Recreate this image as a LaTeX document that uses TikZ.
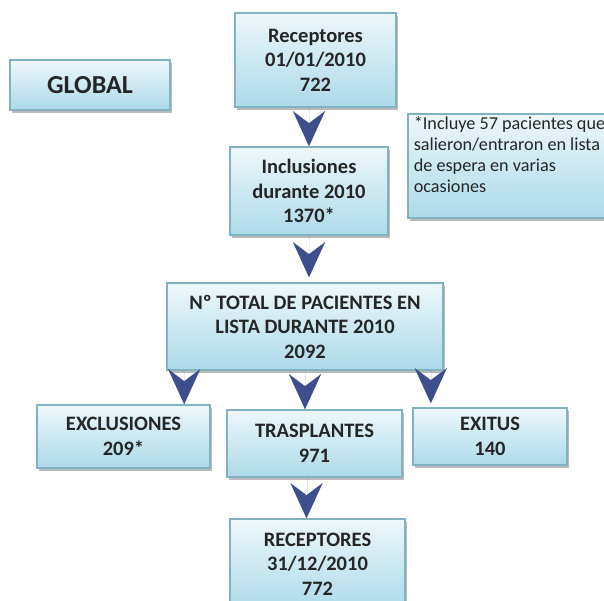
\documentclass[tikz,border=0pt]{standalone}
\usepackage{fontspec}
\setmainfont{Carlito}
\usepackage{tikz}
\usetikzlibrary{positioning,arrows.meta,calc,shadows}

\definecolor{boxline}{RGB}{130,178,194}
\definecolor{boxtop}{RGB}{238,247,250}
\definecolor{boxbot}{RGB}{172,218,233}
\definecolor{arrowblue}{RGB}{62,78,140}
\definecolor{textgray}{RGB}{38,38,38}

\tikzset{
    box/.style={draw=boxline, line width=1.6pt, top color=boxtop, bottom color=boxbot,
        drop shadow={shadow xshift=2pt, shadow yshift=-3pt, fill=black!45, opacity=0.6},
        text=textgray, align=center, inner sep=2pt,
        font=\fontsize{20.5}{24.5}\selectfont\bfseries},
    chev/.style={draw=arrowblue, line width=0.01pt,
        -{Stealth[length=35pt, width=32pt, inset=12pt, fill=arrowblue]}}
}

\begin{document}
\begin{tikzpicture}[x=1pt,y=-1pt]
    \useasboundingbox (0,0) rectangle (604,600);
    \clip (0,0) rectangle (604,600);

    % Boxes
    \node[box, minimum width=160pt, minimum height=50pt,
        font=\fontsize{26}{30}\selectfont\bfseries] (global) at (90,85) {GLOBAL};
    \node[box, minimum width=161pt, minimum height=94pt] (rec1) at (315.5,60) {Receptores\\01/01/2010\\722};
    \node[box, minimum width=158pt, minimum height=88pt] (incl) at (309,191) {Inclusiones\\durante 2010\\1370*};
    \node[box, anchor=north west, minimum width=212pt, inner xsep=1pt, inner ysep=3pt,
        font=\fontsize{18.2}{21}\selectfont] (note) at (407,113)
        {\parbox[t][98pt][t]{200pt}{\raggedright *Incluye 57 pacientes que\\salieron/entraron en lista\\de espera en varias\\ocasiones}};
    \node[box, minimum width=276pt, minimum height=87pt] (total) at (305,326.5) {Nº TOTAL DE PACIENTES EN\\LISTA DURANTE 2010\\2092};
    \node[box, minimum width=173pt, minimum height=63pt] (excl) at (123.5,436.5) {EXCLUSIONES\\209*};
    \node[box, minimum width=175pt, minimum height=67pt] (trasp) at (314.5,443.5) {TRASPLANTES\\971};
    \node[box, minimum width=154pt, minimum height=57pt] (exitus) at (490,436.5) {EXITUS\\140};
    \node[box, minimum width=175pt, minimum height=90pt] (rec2) at (317.5,564) {RECEPTORES\\31/12/2010\\772};

    % Arrows
    \coordinate (cL) at ($(total.south west)+(18,0)$);
    \coordinate (cR) at ($(total.south east)+(-13,0)$);
    \coordinate (cB) at ($(trasp.south)+(-8,0)$);

    \draw[chev] (incl.north |- rec1.south) -- (incl.north);
    \draw[chev, shorten >=5pt] (incl.south) -- (incl.south |- total.north);
    \draw[chev] (cL) -- (cL |- excl.north);
    \draw[chev] (total.south) -- (total.south |- trasp.north);
    \draw[chev, shorten >=4pt] (cR) -- (cR |- exitus.north);
    \draw[chev] (cB) -- (cB |- rec2.north);
\end{tikzpicture}
\end{document}
